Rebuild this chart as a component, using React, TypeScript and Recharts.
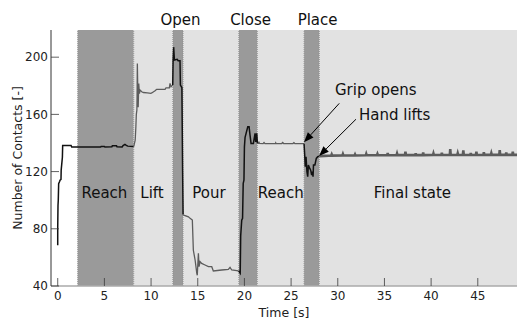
import { LineChart, Line, XAxis, YAxis, ReferenceArea, ReferenceLine, ReferenceDot } from 'recharts'

const FONT = '"DejaVu Sans", sans-serif'
const BLACK = '#111111'
const GREY = '#5c5c5c'
const DARK_FILL = '#9a9a9a'
const LIGHT_FILL = '#e2e2e2'
const TICK = '#3a3a3a'

const X_DOMAIN: [number, number] = [-0.72, 49.2]
const Y_DOMAIN: [number, number] = [40, 219]
const X_TICKS = [0, 5, 10, 15, 20, 25, 30, 35, 40, 45]
const Y_TICKS = [40, 80, 120, 160, 200]

// phase spans in seconds
const DARK_SPANS = [[2.14, 8.14], [12.32, 13.43], [19.39, 21.39], [26.39, 28.03]]
const LIGHT_SPANS = [[8.14, 12.32], [13.43, 19.39], [21.39, 26.39], [28.03, 49.2]]
const PHASE_EDGES = [2.14, 8.14, 12.32, 13.43, 19.39, 21.39, 26.39, 28.03]

const PHASE_NAMES = ['Reach', 'Lift', 'Pour', 'Reach', 'Final state']
const PHASE_NAME_T = [5.0, 10.1, 16.2, 23.9, 38.0]
const PHASE_NAME_V = 105
const GRIP_NAMES = ['Open', 'Close', 'Place']
const GRIP_NAME_T = [13.16, 20.66, 27.84]
const GRIP_NAME_V = 226

const NOTE_TEXT = ['Grip opens', 'Hand lifts']
const NOTE_TEXT_AT = [[29.7, 177.3], [32.27, 160.1]]
const NOTE_TAIL = [[30.16, 167.7], [31.95, 156.6]]
const NOTE_TIP = [[26.38, 140.5], [27.99, 130.9]]

// contact counts, [time s, contacts]
const approach = [
  [0.0, 68.5], [0.0, 81], [0.03, 96.5], [0.06, 100], [0.1, 111.5], [0.2, 113], [0.25, 114],
  [0.35, 114.5], [0.37, 121], [0.5, 130], [0.53, 138.3], [1.43, 138.3], [1.5, 137.2],
  [4.6, 137.2], [4.65, 137.6], [5.0, 137.5], [5.05, 137.2], [5.8, 137.3], [5.85, 138],
  [6.3, 138], [6.35, 137.3], [6.9, 137.2], [7.0, 138.2], [7.2, 139], [7.35, 138.3],
  [7.5, 137.8], [8.14, 137.5],
]
const lift = [
  [8.14, 137.5], [8.3, 142], [8.37, 151], [8.42, 160], [8.48, 163], [8.5, 172], [8.53, 195.5],
  [8.58, 175], [8.62, 165], [8.68, 181.5], [8.75, 174.5], [8.82, 177], [9.0, 175.8],
  [9.18, 175.3], [9.6, 175], [9.97, 174.7], [10.07, 175], [10.43, 176.5], [10.6, 177.5],
  [11.5, 177.5], [11.6, 178.6], [11.96, 178.6], [12.03, 181.7], [12.14, 179.3], [12.32, 180.5],
]
const open = [
  [12.32, 180.5], [12.36, 198], [12.42, 207], [12.5, 198], [12.8, 198.5], [12.9, 197.5],
  [13.1, 197.5], [13.14, 180.5], [13.3, 178.8], [13.32, 165], [13.38, 120], [13.43, 90],
]
const pour = [
  [13.43, 90], [13.5, 89.6], [14.0, 88.4], [14.18, 87.3], [14.42, 86.1], [14.53, 65],
  [14.72, 58], [14.9, 48.9], [14.95, 47.5], [15.07, 62.9], [15.14, 53.5], [15.25, 57],
  [15.42, 55.8], [15.78, 54.7], [16.14, 53.5], [16.5, 53.5], [16.67, 50.5], [17.57, 51.2],
  [18.28, 51.6], [18.46, 53], [18.64, 51.2], [19.18, 50.7], [19.39, 50.5],
]
const close = [
  [19.39, 50.5], [19.55, 49], [19.6, 75], [19.71, 86], [19.8, 87.3], [19.87, 111.8],
  [19.95, 114], [20.0, 137.3], [20.07, 144], [20.36, 151.3], [20.5, 151.3], [20.6, 145.5],
  [20.71, 139.7], [20.96, 139.7], [21.14, 146.7], [21.21, 140.8], [21.32, 146.7], [21.39, 139.7],
]
const retreat = [
  [21.39, 139.7], [21.5, 139.7], [21.55, 141], [21.6, 139.7], [22.0, 139.5], [22.1, 140.3],
  [22.2, 139.5], [23.3, 139.5], [23.35, 140.2], [23.4, 139.5], [24.0, 139.6], [24.1, 140.3],
  [24.2, 139.6], [25.2, 139.6], [25.3, 140.2], [25.4, 139.6], [26.39, 139.5],
]
const place = [
  [26.39, 139.5], [26.45, 132.7], [26.52, 123.4], [26.6, 130.4], [26.7, 120], [26.78, 116.5],
  [26.85, 124.6], [27.0, 122.2], [27.1, 121], [27.2, 117.6], [27.3, 120], [27.35, 116.4],
  [27.4, 124.6], [27.55, 124.6], [27.7, 129.2], [27.85, 130.4], [28.03, 130.8],
]
const settled = [
  [28.03, 130.8], [28.6, 131.0], [29.3, 131.2], [29.35, 132.0], [29.4, 131.2], [30.5, 131.3],
  [30.55, 132.2], [30.6, 131.3], [31.8, 131.3], [31.85, 132.0], [31.9, 131.3], [33.0, 131.4],
  [33.05, 132.4], [33.1, 131.4], [34.2, 131.4], [34.25, 132.3], [34.3, 131.4], [35.3, 131.4],
  [35.35, 133.0], [35.4, 131.4], [36.3, 131.5], [36.35, 132.6], [36.4, 131.5], [37.2, 131.5],
  [37.25, 134.0], [37.3, 131.5], [38.3, 131.5], [38.35, 132.8], [38.4, 131.5], [39.1, 131.5],
  [39.15, 133.4], [39.2, 131.5], [40.2, 131.6], [40.25, 132.7], [40.3, 131.6], [41.1, 131.6],
  [41.15, 133.2], [41.2, 131.6], [42.0, 131.6], [42.05, 135.8], [42.1, 131.6], [42.8, 131.6],
  [42.85, 132.8], [42.9, 131.6], [43.4, 131.6], [43.45, 134.8], [43.5, 131.6], [44.2, 131.6],
  [44.25, 133.0], [44.3, 131.6], [44.8, 131.6], [44.85, 134.0], [44.9, 131.6], [45.6, 131.7],
  [45.65, 133.6], [45.7, 131.7], [46.4, 131.7], [46.45, 132.9], [46.5, 131.7], [47.3, 131.7],
  [47.35, 135.0], [47.4, 131.7], [48.0, 131.7], [48.05, 133.3], [48.1, 131.7], [48.7, 131.7],
  [48.75, 134.0], [48.8, 131.7], [49.25, 131.7],
]

const SEGMENTS = [
  { pts: approach, color: BLACK, width: 1.5 },
  { pts: lift, color: GREY, width: 1.3 },
  { pts: open, color: BLACK, width: 1.5 },
  { pts: pour, color: GREY, width: 1.3 },
  { pts: close, color: BLACK, width: 1.5 },
  { pts: retreat, color: GREY, width: 1.3 },
  { pts: place, color: BLACK, width: 1.5 },
  { pts: settled, color: GREY, width: 2.6 },
]

function BottomTick(props: any) {
  const { x, y, payload } = props
  return (
    <g>
      <line x1={x} x2={x} y1={y} y2={y - 8} stroke={TICK} strokeWidth={0.8} />
      <text x={x} y={y + 14} textAnchor="middle" fontSize={12} fontFamily={FONT} fill="#222">
        {payload.value}
      </text>
    </g>
  )
}

function TopTick(props: any) {
  const { x, y } = props
  return <line x1={x} x2={x} y1={y} y2={y + 8} stroke={TICK} strokeWidth={0.8} />
}

function LeftTick(props: any) {
  const { x, y, payload } = props
  return (
    <g>
      <line x1={x} x2={x + 8} y1={y} y2={y} stroke={TICK} strokeWidth={0.8} />
      <text x={x - 3} y={y} dy="0.35em" textAnchor="end" fontSize={12} fontFamily={FONT} fill="#222">
        {payload.value}
      </text>
    </g>
  )
}

function RightTick(props: any) {
  const { x, y } = props
  return <line x1={x} x2={x - 8} y1={y} y2={y} stroke={TICK} strokeWidth={0.8} />
}

function Arrow(props: any) {
  const { x1, y1, x2, y2 } = props
  const a = Math.atan2(y2 - y1, x2 - x1)
  const len = 10
  const half = 3.8
  const bx = x2 - len * Math.cos(a)
  const by = y2 - len * Math.sin(a)
  const px = -Math.sin(a) * half
  const py = Math.cos(a) * half
  return (
    <g>
      <line x1={x1} y1={y1} x2={bx} y2={by} stroke="#000" strokeWidth={1} />
      <polygon points={`${x2},${y2} ${bx + px},${by + py} ${bx - px},${by - py}`} fill="#000" />
    </g>
  )
}

function YTitle(props: any) {
  const { viewBox } = props
  const cx = viewBox.x + 18
  const cy = viewBox.y + viewBox.height / 2
  return (
    <text
      x={cx}
      y={cy}
      dy="0.35em"
      textAnchor="middle"
      transform={`rotate(-90, ${cx}, ${cy})`}
      fontSize={12.5}
      fontFamily={FONT}
      fill="#222"
    >
      Number of Contacts [-]
    </text>
  )
}

const labelStyle = { fontSize: 15, fontFamily: FONT, fill: '#111' }

export default function App() {
  return (
    <div style={{ position: 'absolute', left: 0, top: 0, background: '#fff' }}>
      <LineChart width={517} height={318} margin={{ top: 30, right: 0, bottom: 0, left: 0 }} style={{ fontFamily: FONT }}>
        {DARK_SPANS.map(([a, b], i) => (
          <ReferenceArea key={`d${i}`} x1={a} x2={b} fill={DARK_FILL} fillOpacity={1} stroke="none" ifOverflow="hidden" />
        ))}
        {LIGHT_SPANS.map(([a, b], i) => (
          <ReferenceArea key={`l${i}`} x1={a} x2={b} fill={LIGHT_FILL} fillOpacity={1} stroke="none" ifOverflow="hidden" />
        ))}
        {PHASE_EDGES.map((t) => (
          <ReferenceLine key={`e${t}`} x={t} stroke="#8a8a8a" strokeWidth={0.8} strokeDasharray="1 1" />
        ))}
        <XAxis
          type="number"
          dataKey="t"
          domain={X_DOMAIN}
          allowDataOverflow
          ticks={X_TICKS}
          height={32}
          tickSize={0}
          tickMargin={0}
          tickLine={false}
          tick={BottomTick}
          axisLine={{ stroke: '#aaaaaa', strokeWidth: 1.5 }}
          label={{ value: 'Time [s]', position: 'insideBottom', offset: 1.5, fontSize: 12.5, fontFamily: FONT, fill: '#222' }}
        />
        <XAxis
          xAxisId="top"
          orientation="top"
          type="number"
          dataKey="t"
          domain={X_DOMAIN}
          allowDataOverflow
          ticks={X_TICKS}
          height={0}
          tickSize={0}
          tickMargin={0}
          tickLine={false}
          tick={TopTick}
          axisLine={{ stroke: '#333', strokeWidth: 1 }}
        />
        <YAxis
          type="number"
          domain={Y_DOMAIN}
          allowDataOverflow
          ticks={Y_TICKS}
          width={51}
          tickSize={0}
          tickMargin={0}
          tickLine={false}
          tick={LeftTick}
          axisLine={{ stroke: '#333', strokeWidth: 1 }}
          label={{ content: YTitle }}
        />
        <YAxis
          yAxisId="right"
          orientation="right"
          type="number"
          domain={Y_DOMAIN}
          allowDataOverflow
          ticks={Y_TICKS}
          width={0}
          tickSize={0}
          tickMargin={0}
          tickLine={false}
          tick={RightTick}
          axisLine={false}
        />
        {SEGMENTS.map((s, i) => (
          <Line
            key={`s${i}`}
            data={s.pts.map(([t, v]) => ({ t, v }))}
            dataKey="v"
            type="linear"
            stroke={s.color}
            strokeWidth={s.width}
            dot={false}
            activeDot={false}
            isAnimationActive={false}
          />
        ))}
        {PHASE_NAMES.map((name, i) => (
          <ReferenceDot
            key={`p${i}`}
            x={PHASE_NAME_T[i]}
            y={PHASE_NAME_V}
            r={0}
            fill="none"
            stroke="none"
            ifOverflow="visible"
            label={{ value: name, position: 'center', ...labelStyle }}
          />
        ))}
        {GRIP_NAMES.map((name, i) => (
          <ReferenceDot
            key={`g${i}`}
            x={GRIP_NAME_T[i]}
            y={GRIP_NAME_V}
            r={0}
            fill="none"
            stroke="none"
            ifOverflow="visible"
            label={{ value: name, position: 'center', ...labelStyle }}
          />
        ))}
        {NOTE_TEXT.map((txt, i) => (
          <ReferenceLine
            key={`a${i}`}
            segment={[
              { x: NOTE_TAIL[i][0], y: NOTE_TAIL[i][1] },
              { x: NOTE_TIP[i][0], y: NOTE_TIP[i][1] },
            ]}
            ifOverflow="visible"
            shape={Arrow}
          />
        ))}
        {NOTE_TEXT.map((txt, i) => (
          <ReferenceDot
            key={`n${i}`}
            x={NOTE_TEXT_AT[i][0]}
            y={NOTE_TEXT_AT[i][1]}
            r={0}
            fill="none"
            stroke="none"
            ifOverflow="visible"
            label={{ value: txt, position: 'right', offset: 0, ...labelStyle }}
          />
        ))}
      </LineChart>
    </div>
  )
}
